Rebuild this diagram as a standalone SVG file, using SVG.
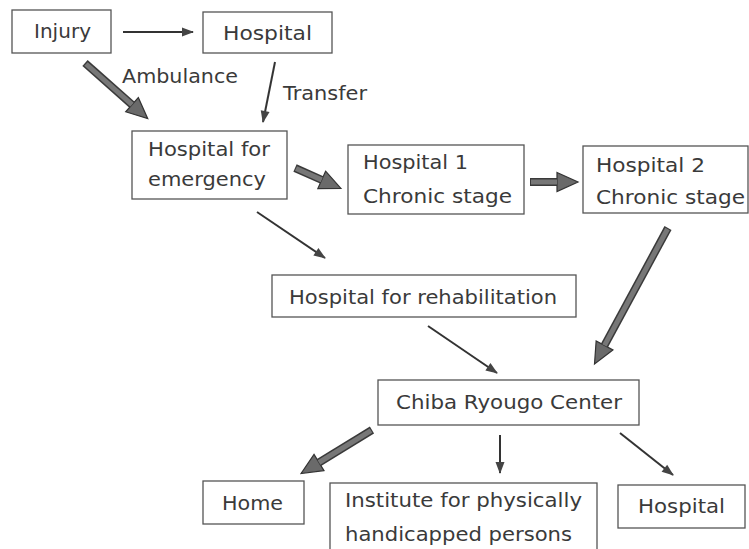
<svg xmlns="http://www.w3.org/2000/svg" width="749" height="549" viewBox="0 0 749 549">
<defs>
<style>
.box{fill:#fff;stroke:#555;stroke-width:1.3}
.t{font-family:"DejaVu Sans","Liberation Sans",sans-serif;font-size:20px;fill:#3a3a3a}
.thin{stroke:#333;stroke-width:2;fill:none;marker-end:url(#ah)}
.thickO{stroke:#3a3a3a;stroke-width:8;fill:none;marker-end:url(#AH)}
.thickI{stroke:#777;stroke-width:5;fill:none}
</style>
<marker id="ah" markerUnits="userSpaceOnUse" markerWidth="14" markerHeight="12" refX="11" refY="5" orient="auto" overflow="visible">
<path d="M0,0.5 L12,5 L0,9.5 Z" fill="#444"/>
</marker>
<marker id="AH" markerUnits="userSpaceOnUse" markerWidth="24" markerHeight="24" refX="0" refY="10" orient="auto" overflow="visible">
<path d="M0,0.5 L21,10 L0,19.5 Z" fill="#6a6a6a" stroke="#333" stroke-width="1.2"/>
</marker>
</defs>
<rect width="749" height="549" fill="#fff"/>

<g id="connectors">
<line class="thin" x1="123" y1="32" x2="193" y2="32"/>
<line class="thin" x1="275" y1="62" x2="263" y2="122"/>
<line class="thin" x1="257" y1="212" x2="325" y2="258"/>
<line class="thin" x1="428" y1="326" x2="497" y2="373"/>
<line class="thin" x1="500" y1="435" x2="500" y2="473"/>
<line class="thin" x1="620" y1="433" x2="673" y2="475"/>

<line class="thickO" x1="85" y1="63" x2="132" y2="104.7"/>
<line class="thickI" x1="86" y1="64" x2="132" y2="104.7"/>
<line class="thickO" x1="295" y1="168" x2="321.7" y2="179.9"/>
<line class="thickI" x1="296" y1="168.5" x2="321.7" y2="179.9"/>
<line class="thickO" x1="530" y1="182" x2="557" y2="182"/>
<line class="thickI" x1="531" y1="182" x2="557" y2="182"/>
<line class="thickO" x1="668" y1="228" x2="604.5" y2="345.4"/>
<line class="thickI" x1="667.5" y1="229" x2="604.5" y2="345.4"/>
<line class="thickO" x1="372" y1="430" x2="319" y2="462.5"/>
<line class="thickI" x1="371" y1="430.6" x2="319" y2="462.5"/>
</g>

<text class="t" x="122" y="83" textLength="116" lengthAdjust="spacingAndGlyphs">Ambulance</text>
<text class="t" x="283" y="100" textLength="84" lengthAdjust="spacingAndGlyphs">Transfer</text>

<g id="injury">
<rect class="box" x="12" y="10" width="99" height="43"/>
<text class="t" x="34" y="38" textLength="57" lengthAdjust="spacingAndGlyphs">Injury</text>
</g>
<g id="hospital-top">
<rect class="box" x="203" y="12" width="129" height="41"/>
<text class="t" x="223" y="40" textLength="89" lengthAdjust="spacingAndGlyphs">Hospital</text>
</g>
<g id="emergency">
<rect class="box" x="132" y="131" width="155" height="68"/>
<text class="t" x="148" y="156" textLength="122" lengthAdjust="spacingAndGlyphs">Hospital for</text>
<text class="t" x="148" y="186" textLength="118" lengthAdjust="spacingAndGlyphs">emergency</text>
</g>
<g id="hospital1">
<rect class="box" x="348" y="145" width="176" height="69"/>
<text class="t" x="363" y="169" textLength="105" lengthAdjust="spacingAndGlyphs">Hospital 1</text>
<text class="t" x="363" y="203" textLength="149" lengthAdjust="spacingAndGlyphs">Chronic stage</text>
</g>
<g id="hospital2">
<rect class="box" x="583" y="146" width="165" height="67"/>
<text class="t" x="596" y="172" textLength="109" lengthAdjust="spacingAndGlyphs">Hospital 2</text>
<text class="t" x="596" y="204" textLength="149" lengthAdjust="spacingAndGlyphs">Chronic stage</text>
</g>
<g id="rehab">
<rect class="box" x="272" y="275" width="304" height="42"/>
<text class="t" x="289" y="304" textLength="268" lengthAdjust="spacingAndGlyphs">Hospital for rehabilitation</text>
</g>
<g id="chiba">
<rect class="box" x="378" y="380" width="261" height="45"/>
<text class="t" x="396" y="409" textLength="226" lengthAdjust="spacingAndGlyphs">Chiba Ryougo Center</text>
</g>
<g id="home">
<rect class="box" x="203" y="481" width="101" height="43"/>
<text class="t" x="222" y="510" textLength="61" lengthAdjust="spacingAndGlyphs">Home</text>
</g>
<g id="institute">
<rect class="box" x="330" y="483" width="267" height="72"/>
<text class="t" x="345" y="507" textLength="237" lengthAdjust="spacingAndGlyphs">Institute for physically</text>
<text class="t" x="345" y="541" textLength="227" lengthAdjust="spacingAndGlyphs">handicapped persons</text>
</g>
<g id="hospital-bottom">
<rect class="box" x="618" y="485" width="127" height="43"/>
<text class="t" x="638" y="513" textLength="87" lengthAdjust="spacingAndGlyphs">Hospital</text>
</g>
</svg>
